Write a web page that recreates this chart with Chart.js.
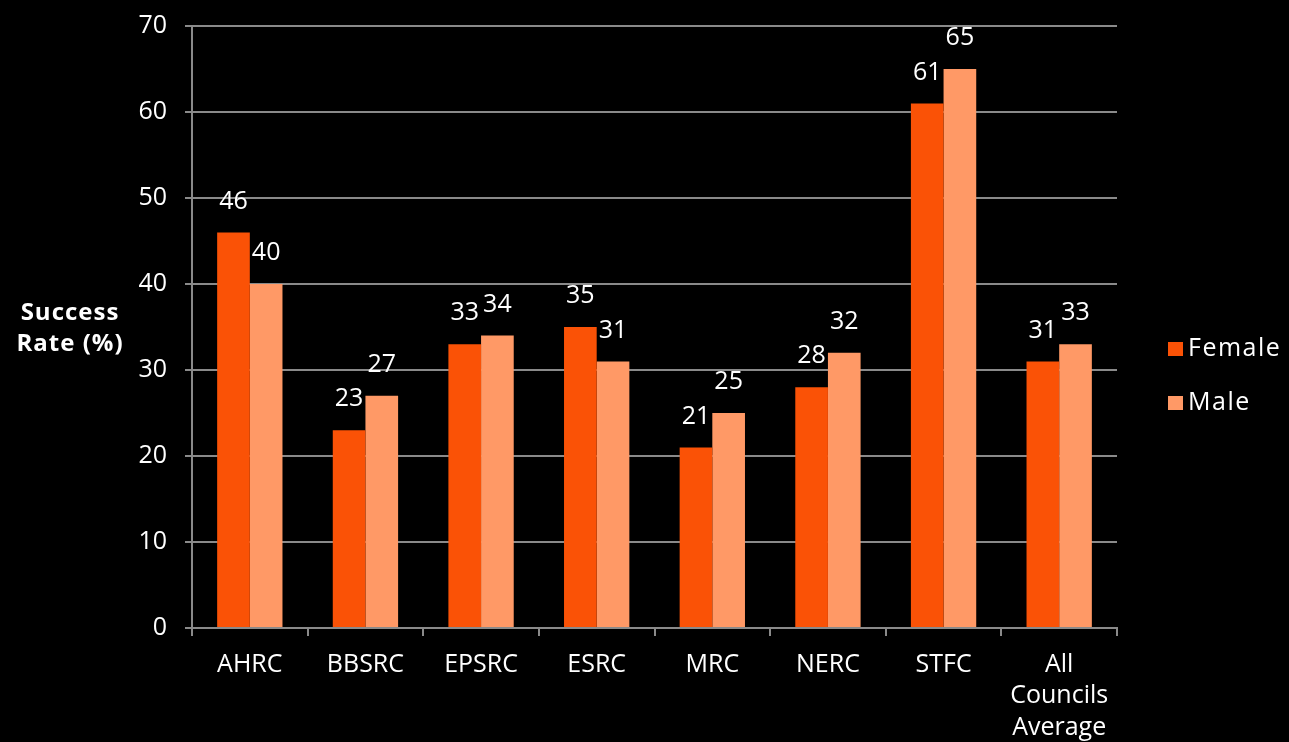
<!DOCTYPE html>
<html>
<head>
<meta charset="utf-8">
<script src="https://cdn.jsdelivr.net/npm/chart.js@4.4.1/dist/chart.umd.min.js"></script>
<style>
  html, body { margin:0; padding:0; background:#000; }
  #wrap { width:1289px; height:742px; position:relative; }
</style>
</head>
<body>
<div id="wrap"><canvas id="chart"></canvas></div>
<script>
// Research council success rates by gender
const councils = ["AHRC","BBSRC","EPSRC","ESRC","MRC","NERC","STFC",["All","Councils","Average"]];
const female = [46,23,33,35,21,28,61,31];
const male = [40,27,34,31,25,32,65,33];
const yTicks = [0,10,20,30,40,50,60,70];

const FONT = "'Open Sans', 'DejaVu Sans', sans-serif";
const GRID = "#8a8a8a";

// value labels above each bar + horizontal axis title + legend
const extras = {
  id:"extras",
  afterDatasetsDraw(chart){
    const ctx = chart.ctx;
    ctx.save();
    ctx.fillStyle = "#fff";
    ctx.font = "25px " + FONT;
    ctx.textAlign = "center";
    ctx.textBaseline = "middle";
    chart.data.datasets.forEach((ds,i)=>{
      chart.getDatasetMeta(i).data.forEach((bar,j)=>{
        ctx.fillText(ds.data[j], bar.x, bar.y - 31);
      });
    });

    // y title, drawn flat
    ctx.font = "bold 24px " + FONT;
    ctx.letterSpacing = "1px";
    ctx.fillText("Success", 70, 313);
    ctx.fillText("Rate (%)", 70, 344);

    // legend
    ctx.textAlign = "left";
    ctx.font = "25px " + FONT;
    ctx.letterSpacing = "1.5px";
    const rows = [349, 403];
    chart.data.datasets.forEach((ds,i)=>{
      ctx.fillStyle = ds.backgroundColor;
      ctx.fillRect(1168, rows[i]-7, 15, 14);
      ctx.fillStyle = "#fff";
      ctx.fillText(ds.label, 1188, rows[i]);
    });
    ctx.restore();
  }
};

new Chart(document.getElementById("chart"), {
  type:"bar",
  data:{
    labels:councils,
    datasets:[
      { label:"Female", data:female, backgroundColor:"#fa5206" },
      { label:"Male", data:male, backgroundColor:"#ff9966" }
    ]
  },
  options:{
    responsive:true,
    maintainAspectRatio:false,
    animation:false,
    layout:{ padding:{ left:0, top:26, right:172, bottom:0 } },
    datasets:{ bar:{ categoryPercentage:0.565, barPercentage:1.0 } },
    plugins:{ legend:{ display:false }, tooltip:{ enabled:false } },
    scales:{
      x:{
        grid:{ display:true, drawOnChartArea:false, drawTicks:true, tickLength:8, color:GRID, lineWidth:2, offset:true },
        border:{ display:true, color:GRID, width:2 },
        ticks:{ color:"#fff", font:{ family:FONT, size:25, lineHeight:1.26 }, padding:13, maxRotation:0, autoSkip:false },
        afterFit(scale){ scale.height = 114; }
      },
      y:{
        min:0, max:70,
        afterBuildTicks(scale){ scale.ticks = yTicks.map(v=>({ value:v })); },
        grid:{ color:GRID, lineWidth:2, tickLength:7, drawTicks:true },
        border:{ display:true, color:GRID, width:2 },
        ticks:{ color:"#fff", font:{ family:FONT, size:25 }, padding:18 },
        afterFit(scale){ scale.width = 192; scale.paddingTop = 0; scale.paddingBottom = 0; }
      }
    }
  },
  plugins:[extras]
});
</script>
</body>
</html>
